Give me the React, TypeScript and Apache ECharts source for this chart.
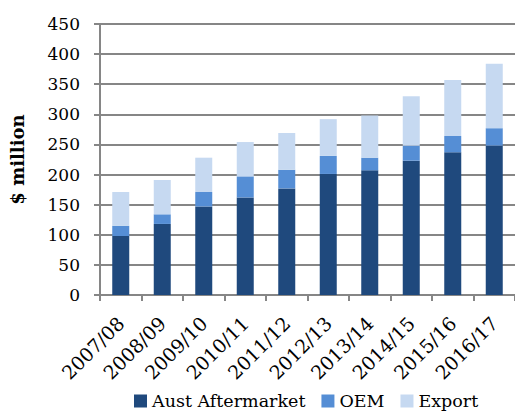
import React, { useEffect, useRef } from "react";
import * as echarts from "echarts";

const categories = [
  "2007/08", "2008/09", "2009/10", "2010/11", "2011/12",
  "2012/13", "2013/14", "2014/15", "2015/16", "2016/17",
];
const austAftermarket = [98, 118, 147, 162, 177, 201, 207, 223, 237, 248];
const oem = [17, 16, 24, 35, 31, 30, 21, 25, 27, 29];
const exportValues = [56, 57, 57, 57, 61, 61, 70, 82, 93, 107];

const FONT = "DejaVu Serif";
const AXIS_GREY = "#868686";

export default function App() {
  const ref = useRef<HTMLDivElement>(null);

  useEffect(() => {
    if (!ref.current) return;
    const chart = echarts.init(ref.current, null, { renderer: "svg" });
    const barSeries = (name: string, data: number[], color: string) => ({
      name,
      type: "bar",
      stack: "total",
      data,
      barWidth: 17,
      itemStyle: { color },
    });
    chart.setOption({
      animation: false,
      backgroundColor: "#ffffff",
      textStyle: { fontFamily: FONT },
      grid: { left: 93, top: 24, width: 426, height: 271 },
      legend: {
        left: 134,
        top: 392,
        padding: 0,
        itemWidth: 13,
        itemHeight: 13,
        itemGap: 16,
        icon: "rect",
        textStyle: { fontFamily: FONT, fontSize: 17.5, color: "#000" },
        data: ["Aust Aftermarket", "OEM", "Export"],
      },
      xAxis: {
        type: "category",
        data: categories,
        axisLine: { lineStyle: { color: AXIS_GREY, width: 2 } },
        axisTick: { show: true, length: 6, lineStyle: { color: AXIS_GREY, width: 2 } },
        axisLabel: {
          rotate: 45,
          margin: 25,
          fontFamily: FONT,
          fontSize: 19,
          color: "#000",
          interval: 0,
        },
      },
      yAxis: {
        type: "value",
        min: 0,
        max: 450,
        interval: 50,
        name: "$ million",
        nameLocation: "middle",
        nameGap: 74,
        nameTextStyle: { fontFamily: FONT, fontSize: 18, fontWeight: "bold", color: "#000" },
        axisLine: { show: true, lineStyle: { color: AXIS_GREY, width: 2 } },
        axisTick: { show: true, length: 6, lineStyle: { color: AXIS_GREY, width: 2 } },
        axisLabel: { margin: 20, fontFamily: FONT, fontSize: 17, color: "#000" },
        splitLine: { lineStyle: { color: AXIS_GREY, width: 2 } },
      },
      series: [
        barSeries("Aust Aftermarket", austAftermarket, "#1f497d"),
        barSeries("OEM", oem, "#558ed5"),
        barSeries("Export", exportValues, "#c6d9f1"),
      ],
    });
    return () => chart.dispose();
  }, []);

  return (
    <div
      ref={ref}
      style={{ position: "fixed", left: 0, top: 0, width: 515, height: 412 }}
    />
  );
}
